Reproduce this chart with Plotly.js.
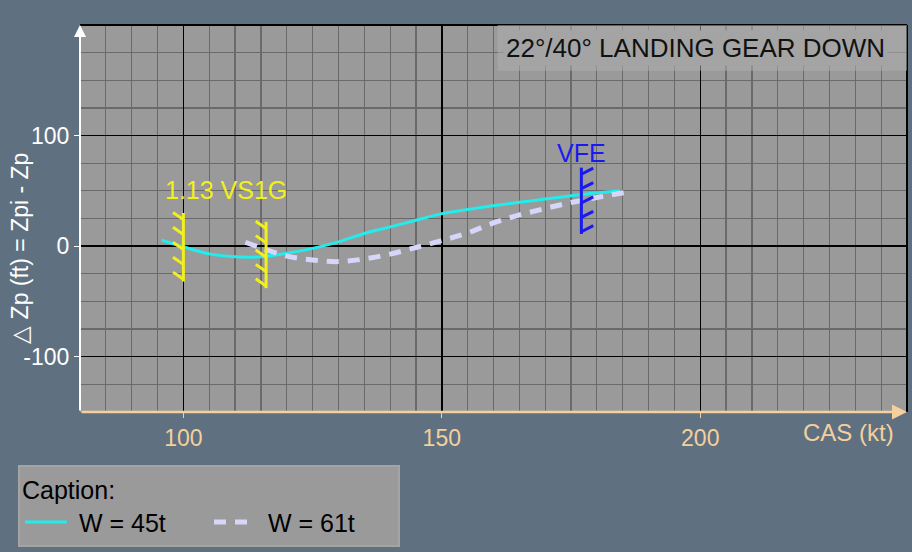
<!DOCTYPE html>
<html><head><meta charset="utf-8">
<script src="https://cdn.plot.ly/plotly-3.0.1.min.js"></script>
<style>html,body{margin:0;padding:0;background:#5f7181;}#chart{width:912px;height:552px;}</style>
</head><body><div id="chart"></div>
<script>
// ---- data ----
const cas45 = [95.8, 100, 105, 110, 115, 120, 125, 130, 135, 140, 145, 150, 155, 160, 165, 170, 175, 180, 184.5];
const dzp45 = [5.4, -0.6, -7, -9.6, -9.6, -6.5, -2, 3.9, 11.4, 17.4, 23.4, 29.4, 33.2, 36.6, 39.6, 42.6, 45.6, 48.2, 49.8];
const cas61 = [112, 115, 120, 125, 130, 135, 140, 145, 150, 155, 160, 165, 170, 175, 180, 186];
const dzp61 = [3.5, -1.5, -9, -12.6, -14, -11.6, -7.2, -1.2, 5, 12, 21, 28.2, 34, 39.5, 44, 49];
const seriesNames = ['W = 45t', 'W = 61t'];
const limitCas = [100, 116, 177];
const limitTop = [30, 22, 71];
const limitBottom = [-32, -38, 11];
const limitText = ['1.13 VS1G', 'VFE'];
const xTicks = [100, 150, 200];
const yTicks = [-100, 0, 100];
const titleText = '22°/40° LANDING GEAR DOWN';
const legendTitle = 'Caption:';

// ---- styling ----
const PEACH = '#f5cf9c', CYAN = '#22ecec', LAV = '#d6d6fa', YEL = '#f2f01a', BLUE = '#1a1af0';
const FONT = 'Liberation Sans, Arial, sans-serif';
const NBSP = '\u00a0';

function hatchTrace(idx, dx, dy, color) {
  const xs = [], ys = [];
  idx.forEach(i => {
    const c = limitCas[i], t = limitTop[i], b = limitBottom[i];
    xs.push(c, c, null); ys.push(b, t, null);
    for (let k = 0; k < 5; k++) {
      const ya = b + 2 + k * (t - b - 8) / 4;
      xs.push(c, c + dx, null); ys.push(ya, ya + dy, null);
    }
  });
  return {x: xs, y: ys, mode: 'lines', line: {color: color, width: 3}, showlegend: false, hoverinfo: 'skip', type: 'scatter'};
}

const traces = [
  {x: cas45, y: dzp45, name: NBSP + seriesNames[0], mode: 'lines', line: {color: CYAN, width: 3, shape: 'spline'}, type: 'scatter'},
  {x: cas61, y: dzp61, name: NBSP + seriesNames[1], mode: 'lines', line: {color: LAV, width: 5, shape: 'spline', dash: '12px,9px'}, type: 'scatter'},
  hatchTrace([0, 1], -2, 6.5, YEL),
  hatchTrace([2], 2.3, 5.5, BLUE)
];

const layout = {
  width: 912, height: 552,
  margin: {l: 80, r: 5, t: 25, b: 138},
  paper_bgcolor: '#5f7181', plot_bgcolor: '#9a9a9a',
  font: {family: FONT, size: 23, color: '#000'},
  xaxis: {
    range: [80, 240], tickvals: xTicks, ticktext: xTicks.map(String),
    showgrid: true, gridcolor: '#000', gridwidth: 1.5,
    minor: {tick0: 0, dtick: 5, showgrid: true, gridcolor: '#6a6a6a', gridwidth: 1.2},
    zeroline: false, showline: false,
    ticks: 'outside', ticklen: 5, tickcolor: PEACH, tickwidth: 1,
    tickfont: {size: 23, color: PEACH, family: FONT}, fixedrange: true
  },
  yaxis: {
    range: [-150, 200], tickvals: yTicks, ticktext: yTicks.map(String),
    showgrid: true, gridcolor: '#000', gridwidth: 1.5,
    minor: {tick0: 0, dtick: 25, showgrid: true, gridcolor: '#6a6a6a', gridwidth: 1.2},
    zeroline: true, zerolinecolor: '#000', zerolinewidth: 2.5, showline: false,
    ticks: 'outside', ticklen: 5, tickcolor: '#fff', tickwidth: 1,
    tickfont: {size: 23, color: '#fff', family: FONT}, fixedrange: true
  },
  showlegend: true,
  legend: {
    orientation: 'h', x: -0.075, xanchor: 'left', y: -0.136, yanchor: 'top',
    bgcolor: '#9a9a9a', bordercolor: '#a4a4a4', borderwidth: 2,
    font: {size: 25, color: '#000', family: FONT},
    title: {text: legendTitle, side: 'top', font: {size: 25, color: '#000', family: FONT}},
    itemwidth: 42, entrywidth: 132, traceorder: 'normal'
  },
  shapes: [
    {type: 'line', xref: 'paper', yref: 'paper', x0: 0, x1: 1, y0: 1, y1: 1, line: {color: '#000', width: 2}},
    {type: 'line', xref: 'paper', yref: 'paper', x0: 1, x1: 1, y0: 0, y1: 1, line: {color: '#000', width: 2}},
    {type: 'rect', xref: 'paper', yref: 'paper', x0: 0.505, x1: 1, y0: 0.882, y1: 1, fillcolor: 'rgba(175,175,175,0.55)', line: {width: 0}, layer: 'above'}
  ],
  annotations: [
    {xref: 'x', yref: 'y', x: 80, y: 200, axref: 'x', ayref: 'y', ax: 80, ay: -150, showarrow: true, arrowhead: 2, arrowsize: 1.2, arrowwidth: 2, arrowcolor: '#fff', text: ''},
    {xref: 'x', yref: 'y', x: 240, y: -150, axref: 'x', ayref: 'y', ax: 80, ay: -150, showarrow: true, arrowhead: 2, arrowsize: 1.2, arrowwidth: 2.5, arrowcolor: PEACH, text: ''},
    {xref: 'paper', yref: 'paper', x: 0.977, y: 0.941, xanchor: 'right', yanchor: 'middle', showarrow: false, text: titleText, font: {size: 26, color: '#111', family: FONT}, bgcolor: '#a4a4a4', borderpad: 2},
    {xref: 'x', yref: 'y', x: 96, y: 50.5, xanchor: 'left', yanchor: 'middle', showarrow: false, text: limitText[0], font: {size: 25, color: YEL, family: FONT}},
    {xref: 'x', yref: 'y', x: 177, y: 84, xanchor: 'center', yanchor: 'middle', showarrow: false, text: limitText[1], font: {size: 25, color: BLUE, family: FONT}},
    {xref: 'paper', yref: 'y', x: -0.072, y: -2, xanchor: 'center', yanchor: 'middle', textangle: -90, showarrow: false, text: '△ Zp (ft) = Zpi - Zp', font: {size: 23, color: '#fff', family: FONT}},
    {xref: 'paper', yref: 'paper', x: 0.987, y: -0.054, xanchor: 'right', yanchor: 'middle', showarrow: false, text: 'CAS (kt)', font: {size: 24, color: PEACH, family: FONT}}
  ]
};

Plotly.newPlot('chart', traces, layout, {staticPlot: true, displayModeBar: false});
</script>
</body></html>
